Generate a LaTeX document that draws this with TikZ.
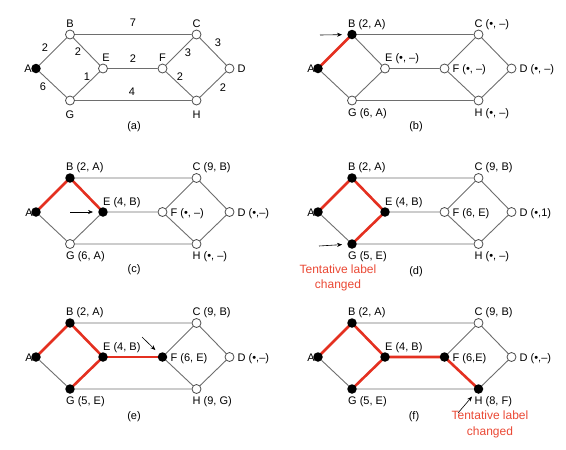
\documentclass[tikz,border=0pt]{standalone}
\usepackage{fontspec}
\setmainfont{Liberation Sans}
\usetikzlibrary{backgrounds,arrows.meta}
\definecolor{edgegray}{RGB}{110,110,110}
\definecolor{hired}{RGB}{228,48,32}
\definecolor{notered}{RGB}{234,72,52}
\tikzset{
 op/.style={circle, draw=black!70, fill=white, line width=0.8pt, minimum size=9pt, inner sep=0pt},
 fl/.style={circle, fill=black, minimum size=9.5pt, inner sep=0pt},
 edge/.style={draw=edgegray, line width=0.9pt},
 tree/.style={draw=hired, line width=2.6pt},
 txt/.style={font=\fontsize{11}{13}\selectfont, inner sep=0pt},
 toplab/.style={txt, anchor=base west, xshift=-4pt, yshift=7.5pt},
 botlab/.style={txt, anchor=base west, xshift=-4pt, yshift=-15.5pt},
 rightlab/.style={txt, anchor=base west, xshift=8pt, yshift=-4pt},
 elab/.style={txt, anchor=base west, xshift=0pt, yshift=7pt},
 alab/.style={txt, anchor=base east, xshift=-3pt, yshift=-4pt},
 note/.style={font=\fontsize{12}{15.5}\selectfont, text=notered, align=center, inner sep=0pt},
 ptr/.style={-{Stealth[length=5pt,width=4pt]}, line width=0.6pt, shorten >=5pt},
}
\newcommand\graphnodes[9]{%
 \node[#2] (#1A) at (0,0) {};
 \node[#3] (#1B) at (34,-34) {};
 \node[#4] (#1C) at (160.5,-34) {};
 \node[#5] (#1D) at (193.5,0) {};
 \node[#6] (#1E) at (67,0) {};
 \node[#7] (#1F) at (126.5,0) {};
 \node[#8] (#1G) at (34,32) {};
 \node[#9] (#1H) at (160.5,32) {};
}
\newcommand\graphedges[1]{%
 \begin{pgfonlayer}{background}
 \draw[edge] (#1A)--(#1B) (#1A)--(#1G) (#1B)--(#1C) (#1B)--(#1E) (#1G)--(#1E)
   (#1G)--(#1H) (#1E)--(#1F) (#1F)--(#1C) (#1F)--(#1H) (#1C)--(#1D) (#1H)--(#1D);
 \end{pgfonlayer}}
\begin{document}
\begin{tikzpicture}[x=1pt,y=-1pt]
\useasboundingbox (0,0) rectangle (566,450);
% ---------- (a)
\begin{scope}[shift={(36,68.5)}]
 \graphnodes{a}{fl}{op}{op}{op}{op}{op}{op}{op}
\end{scope}
\graphedges{a}
\node[txt, anchor=base east, xshift=-4pt, yshift=-4pt] (aLA) at (aA) {A};
\node[txt, anchor=base, yshift=7.5pt] (aLB) at (aB) {B};
\node[txt, anchor=base, yshift=7.5pt] (aLC) at (aC) {C};
\node[txt, anchor=base west, xshift=8pt, yshift=-4pt] (aLD) at (aD) {D};
\node[txt, anchor=base, xshift=3pt, yshift=7pt] (aLE) at (aE) {E};
\node[txt, anchor=base, yshift=7pt] (aLF) at (aF) {F};
\node[txt, anchor=base, yshift=-18pt] (aLG) at (aG) {G};
\node[txt, anchor=base, yshift=-18pt] (aLH) at (aH) {H};
\node[txt] (wBC) at (133,23) {7};
\node[txt] (wAB) at (45,48) {2};
\node[txt] (wBE) at (78,52) {2};
\node[txt] (wEF) at (133,58.5) {2};
\node[txt] (wFC) at (188,53) {3};
\node[txt] (wCD) at (218,43) {3};
\node[txt] (wGE) at (87,77) {1};
\node[txt] (wAG) at (43,87) {6};
\node[txt] (wGH) at (132,92) {4};
\node[txt] (wFH) at (180,77) {2};
\node[txt] (wHD) at (223,88) {2};
\node[txt] (capa) at (134,127) {(a)};
% ---------- (b)
\begin{scope}[shift={(318,68.5)}]
 \graphnodes{b}{fl}{fl}{op}{op}{op}{op}{op}{op}
\end{scope}
\graphedges{b}
\begin{pgfonlayer}{background}
 \draw[tree] (bA.center)--(bB.center);
\end{pgfonlayer}
\node[alab] (bLA) at (bA) {A};
\node[toplab] (bLB) at (bB) {B (2, A)};
\node[toplab] (bLC) at (bC) {C (•, –)};
\node[rightlab] (bLD) at (bD) {D (•, –)};
\node[elab] (bLE) at (bE) {E (•, –)};
\node[rightlab] (bLF) at (bF) {F (•, –)};
\node[botlab] (bLG) at (bG) {G (6, A)};
\node[botlab] (bLH) at (bH) {H (•, –)};
\coordinate (bArr) at (320,35);
\draw[ptr] (bArr) -- (bB);
\node[txt] (capb) at (416,127) {(b)};
% ---------- (c)
\begin{scope}[shift={(36,212)}]
 \graphnodes{c}{fl}{fl}{op}{op}{fl}{op}{op}{op}
\end{scope}
\graphedges{c}
\begin{pgfonlayer}{background}
 \draw[tree] (cA.center)--(cB.center)--(cE.center);
\end{pgfonlayer}
\node[alab] (cLA) at (cA) {A};
\node[toplab] (cLB) at (cB) {B (2, A)};
\node[toplab] (cLC) at (cC) {C (9, B)};
\node[rightlab] (cLD) at (cD) {D (•,–)};
\node[elab] (cLE) at (cE) {E (4, B)};
\node[rightlab] (cLF) at (cF) {F (•, –)};
\node[botlab] (cLG) at (cG) {G (6, A)};
\node[botlab] (cLH) at (cH) {H (•, –)};
\coordinate (cArr) at (70,212);
\draw[ptr] (cArr) -- (cE);
\node[txt] (capc) at (134,270) {(c)};
% ---------- (d)
\begin{scope}[shift={(318,212)}]
 \graphnodes{d}{fl}{fl}{op}{op}{fl}{op}{fl}{op}
\end{scope}
\graphedges{d}
\begin{pgfonlayer}{background}
 \draw[tree] (dA.center)--(dB.center)--(dE.center)--(dG.center);
\end{pgfonlayer}
\node[alab] (dLA) at (dA) {A};
\node[toplab] (dLB) at (dB) {B (2, A)};
\node[toplab] (dLC) at (dC) {C (9, B)};
\node[rightlab] (dLD) at (dD) {D (•,1)};
\node[elab] (dLE) at (dE) {E (4, B)};
\node[rightlab] (dLF) at (dF) {F (6, E)};
\node[botlab] (dLG) at (dG) {G (5, E)};
\node[botlab] (dLH) at (dH) {H (•, –)};
\coordinate (dArr) at (319,246);
\draw[ptr] (dArr) -- (dG);
\node[note] (dNote) at (338,278) {Tentative label\\changed};
\node[txt] (capd) at (416,272) {(d)};
% ---------- (e)
\begin{scope}[shift={(36,357)}]
 \graphnodes{e}{fl}{fl}{op}{op}{fl}{fl}{fl}{op}
\end{scope}
\graphedges{e}
\begin{pgfonlayer}{background}
 \draw[tree] (eA.center)--(eB.center)--(eE.center)--(eG.center);
 \draw[tree] (eE.center)--(eF.center);
\end{pgfonlayer}
\node[alab] (eLA) at (eA) {A};
\node[toplab] (eLB) at (eB) {B (2, A)};
\node[toplab] (eLC) at (eC) {C (9, B)};
\node[rightlab] (eLD) at (eD) {D (•,–)};
\node[elab] (eLE) at (eE) {E (4, B)};
\node[rightlab] (eLF) at (eF) {F (6, E)};
\node[botlab] (eLG) at (eG) {G (5, E)};
\node[botlab] (eLH) at (eH) {H (9, G)};
\coordinate (eArr) at (142,337);
\draw[ptr] (eArr) -- (eF);
\node[txt] (cape) at (134,417) {(e)};
% ---------- (f)
\begin{scope}[shift={(318,357)}]
 \graphnodes{f}{fl}{fl}{op}{op}{fl}{fl}{fl}{fl}
\end{scope}
\graphedges{f}
\begin{pgfonlayer}{background}
 \draw[tree] (fA.center)--(fB.center)--(fE.center)--(fG.center);
 \draw[tree] (fE.center)--(fF.center)--(fH.center);
\end{pgfonlayer}
\node[alab] (fLA) at (fA) {A};
\node[toplab] (fLB) at (fB) {B (2, A)};
\node[toplab] (fLC) at (fC) {C (9, B)};
\node[rightlab] (fLD) at (fD) {D (•,–)};
\node[elab] (fLE) at (fE) {E (4, B)};
\node[rightlab] (fLF) at (fF) {F (6,E)};
\node[botlab] (fLG) at (fG) {G (5, E)};
\node[botlab] (fLH) at (fH) {H (8, F)};
\coordinate (fArr) at (458,413);
\draw[ptr] (fArr) -- (fH);
\node[note] (fNote) at (490,424.5) {Tentative label\\changed};
\node[txt] (capf) at (414,417) {(f)};
\end{tikzpicture}
\end{document}
